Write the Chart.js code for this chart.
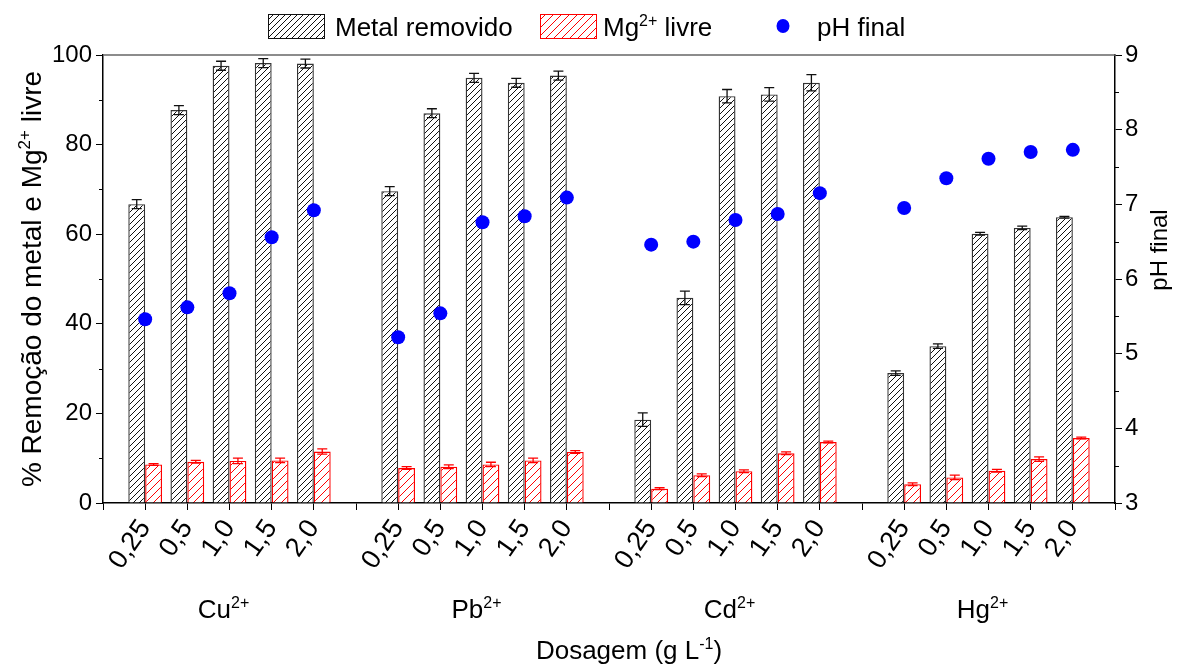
<!DOCTYPE html>
<html>
<head>
<meta charset="utf-8">
<script src="https://cdn.jsdelivr.net/npm/chart.js@4.4.0/dist/chart.umd.min.js"></script>
<style>
  html, body { margin: 0; padding: 0; background: #fff; }
</style>
</head>
<body>
<canvas id="chart" width="1181" height="666"></canvas>
<script>
// dosages per metal, metal names with their charge
const dosages = ["0,25", "0,5", "1,0", "1,5", "2,0"];
const metals = [["Cu", "2+"], ["Pb", "2+"], ["Cd", "2+"], ["Hg", "2+"]];

// % metal removed
const cuRemoved = [66.7, 87.7, 97.6, 98.2, 98.1];
const pbRemoved = [69.6, 87.0, 94.9, 93.8, 95.4];
const cdRemoved = [18.6, 45.8, 90.8, 91.2, 93.8];
const hgRemoved = [29.0, 35.0, 60.1, 61.4, 63.8];
const cuRemovedErr = [1.0, 1.0, 1.0, 1.0, 1.0];
const pbRemovedErr = [1.0, 1.0, 1.0, 1.0, 1.0];
const cdRemovedErr = [1.5, 1.5, 1.5, 1.5, 1.8];
const hgRemovedErr = [0.5, 0.5, 0.3, 0.4, 0.2];

// % free Mg2+
const cuMg = [8.6, 9.2, 9.4, 9.5, 11.5];
const pbMg = [7.8, 8.1, 8.6, 9.5, 11.4];
const cdMg = [3.2, 6.2, 7.1, 11.1, 13.6];
const hgMg = [4.2, 5.7, 7.2, 9.8, 14.5];
const cuMgErr = [0.2, 0.3, 0.6, 0.5, 0.6];
const pbMgErr = [0.3, 0.4, 0.5, 0.5, 0.3];
const cdMgErr = [0.2, 0.3, 0.3, 0.3, 0.2];
const hgMgErr = [0.3, 0.5, 0.3, 0.5, 0.2];

// final pH
const cuPH = [5.46, 5.62, 5.81, 6.56, 6.92];
const pbPH = [5.22, 5.54, 6.76, 6.84, 7.09];
const cdPH = [6.46, 6.50, 6.79, 6.87, 7.15];
const hgPH = [6.95, 7.35, 7.61, 7.70, 7.73];

const FONT = "'Liberation Sans', Arial, sans-serif";
Chart.defaults.font.family = FONT;
Chart.defaults.color = "#000";

// one empty slot before, between and after the groups
function spread(groups) {
  const out = [null];
  groups.forEach((g) => { out.push(...g, null); });
  return out;
}
const labels = spread(metals.map(() => dosages)).map((v) => v ?? "");

function hatch(color, step, lw) {
  const c = document.createElement("canvas");
  c.width = step; c.height = step;
  const g = c.getContext("2d");
  g.fillStyle = "#fff";
  g.fillRect(0, 0, step, step);
  g.strokeStyle = color;
  g.lineWidth = lw;
  g.beginPath();
  g.moveTo(0, step); g.lineTo(step, 0);
  g.moveTo(-1, 1); g.lineTo(1, -1);
  g.moveTo(step - 1, step + 1); g.lineTo(step + 1, step - 1);
  g.stroke();
  return g.createPattern(c, "repeat");
}
const blackHatch = hatch("#111", 6, 1);
const redHatch = hatch("#ff0000", 8, 1);

// text with a superscript part: parts = [[text, isSup], ...]
function drawRich(ctx, parts, x, y, size, align) {
  const supSize = Math.round(size * 0.62);
  let total = 0;
  const widths = parts.map(([t, sup]) => {
    ctx.font = `${sup ? supSize : size}px ${FONT}`;
    const w = ctx.measureText(t).width;
    total += w;
    return w;
  });
  let cx = align === "left" ? x : x - total / 2;
  ctx.textAlign = "left";
  ctx.textBaseline = "alphabetic";
  parts.forEach(([t, sup], i) => {
    ctx.font = `${sup ? supSize : size}px ${FONT}`;
    ctx.fillText(t, cx, sup ? y - size * 0.4 : y);
    cx += widths[i];
  });
}

const decor = {
  id: "decor",
  afterDatasetsDraw(chart) {
    const ctx = chart.ctx;
    const ys = chart.scales.y;
    chart.data.datasets.forEach((ds, i) => {
      if (!ds.errors) return;
      const meta = chart.getDatasetMeta(i);
      ctx.save();
      ctx.strokeStyle = ds.errorColor;
      ctx.lineWidth = 1.3;
      meta.data.forEach((bar, j) => {
        const v = ds.data[j], e = ds.errors[j];
        if (v == null || e == null) return;
        const top = ys.getPixelForValue(v + e);
        const bot = ys.getPixelForValue(v - e);
        ctx.beginPath();
        ctx.moveTo(bar.x, top); ctx.lineTo(bar.x, bot);
        ctx.moveTo(bar.x - 5, top); ctx.lineTo(bar.x + 5, top);
        ctx.moveTo(bar.x - 5, bot); ctx.lineTo(bar.x + 5, bot);
        ctx.stroke();
      });
      ctx.restore();
    });
  },
  afterDraw(chart) {
    const ctx = chart.ctx;
    const a = chart.chartArea;
    const ys = chart.scales.y, y2 = chart.scales.y2, xs = chart.scales.x;
    ctx.save();
    ctx.fillStyle = "#000";

    // top frame line
    ctx.strokeStyle = "#666";
    ctx.lineWidth = 1.5;
    ctx.beginPath();
    ctx.moveTo(a.left, a.top); ctx.lineTo(a.right, a.top);
    ctx.stroke();

    // minor ticks
    ctx.strokeStyle = "#000";
    ctx.lineWidth = 1;
    ctx.beginPath();
    for (let v = 10; v < 100; v += 20) {
      const p = Math.round(ys.getPixelForValue(v)) + 0.5;
      ctx.moveTo(a.left - 4, p); ctx.lineTo(a.left, p);
    }
    for (let v = 3.5; v < 9; v += 1) {
      const p = Math.round(y2.getPixelForValue(v)) + 0.5;
      ctx.moveTo(a.right, p); ctx.lineTo(a.right + 4, p);
    }
    ctx.stroke();

    // legend
    ctx.fillStyle = blackHatch;
    ctx.fillRect(268, 14, 57, 25);
    ctx.strokeStyle = "#111";
    ctx.strokeRect(268.5, 14.5, 56, 24);
    ctx.fillStyle = redHatch;
    ctx.fillRect(540, 14, 57, 25);
    ctx.strokeStyle = "#ff0000";
    ctx.strokeRect(540.5, 14.5, 56, 24);
    ctx.fillStyle = "#0000ff";
    ctx.beginPath();
    ctx.ellipse(783, 26, 6.5, 7, 0, 0, Math.PI * 2);
    ctx.fill();
    ctx.fillStyle = "#000";
    drawRich(ctx, [["Metal removido", false]], 335, 36, 26, "left");
    drawRich(ctx, [["Mg", false], ["2+", true], [" livre", false]], 603, 36, 26, "left");
    drawRich(ctx, [["pH final", false]], 817, 36, 26, "left");

    // group names under the dosages
    metals.forEach((m, k) => {
      const px = xs.getPixelForValue(3 + k * 6);
      drawRich(ctx, [[m[0], false], [m[1], true]], px - 6, 618, 26, "center");
    });

    // axis titles
    drawRich(ctx, [["Dosagem (g L", false], ["-1", true], [")", false]], 629, 659, 26, "center");

    ctx.save();
    ctx.translate(41, 279);
    ctx.rotate(-Math.PI / 2);
    drawRich(ctx, [["% Remoção do metal e Mg", false], ["2+", true], [" livre", false]], 0, 0, 28, "center");
    ctx.restore();

    ctx.save();
    ctx.translate(1167, 250);
    ctx.rotate(-Math.PI / 2);
    drawRich(ctx, [["pH final", false]], 0, 0, 24, "center");
    ctx.restore();

    ctx.restore();
  },
};

new Chart(document.getElementById("chart"), {
  type: "bar",
  data: {
    labels: labels,
    datasets: [
      {
        type: "line",
        label: "pH final",
        data: spread([cuPH, pbPH, cdPH, hgPH]),
        yAxisID: "y2",
        showLine: false,
        pointRadius: 7,
        pointHoverRadius: 7,
        pointBackgroundColor: "#0000ff",
        pointBorderWidth: 0,
        borderColor: "#0000ff",
      },
      {
        label: "Metal removido",
        data: spread([cuRemoved, pbRemoved, cdRemoved, hgRemoved]),
        errors: spread([cuRemovedErr, pbRemovedErr, cdRemovedErr, hgRemovedErr]),
        errorColor: "#111",
        backgroundColor: blackHatch,
        borderColor: "#333",
        borderWidth: 1.4,
        yAxisID: "y",
      },
      {
        label: "Mg2+ livre",
        data: spread([cuMg, pbMg, cdMg, hgMg]),
        errors: spread([cuMgErr, pbMgErr, cdMgErr, hgMgErr]),
        errorColor: "#ff0000",
        backgroundColor: redHatch,
        borderColor: "#ff0000",
        borderWidth: 1.4,
        yAxisID: "y",
      },
    ],
  },
  options: {
    responsive: false,
    animation: false,
    devicePixelRatio: 1,
    layout: { padding: { top: 55, left: 0, right: 0, bottom: 0 } },
    datasets: { bar: { barPercentage: 1.0, categoryPercentage: 0.8 } },
    plugins: { legend: { display: false }, tooltip: { enabled: false } },
    scales: {
      x: {
        type: "category",
        offset: false,
        grid: { offset: false, drawOnChartArea: false, tickLength: 7, color: "#000" },
        border: { color: "#000", width: 1.5 },
        ticks: { autoSkip: false, minRotation: 55, maxRotation: 55, padding: 4, font: { size: 27 } },
        afterFit: (s) => { s.height = 163; },
      },
      y: {
        position: "left",
        min: 0,
        max: 100,
        grid: { drawOnChartArea: false, tickLength: 7, color: "#000" },
        border: { color: "#000", width: 1.5 },
        ticks: { stepSize: 20, padding: 4, font: { size: 24 } },
        afterFit: (s) => { s.width = 103; },
      },
      y2: {
        position: "right",
        min: 3,
        max: 9,
        grid: { drawOnChartArea: false, tickLength: 7, color: "#000" },
        border: { color: "#000", width: 1.5 },
        ticks: { stepSize: 1, padding: 3, font: { size: 24 } },
        afterFit: (s) => { s.width = 66; },
      },
    },
  },
  plugins: [decor],
});
</script>
</body>
</html>
